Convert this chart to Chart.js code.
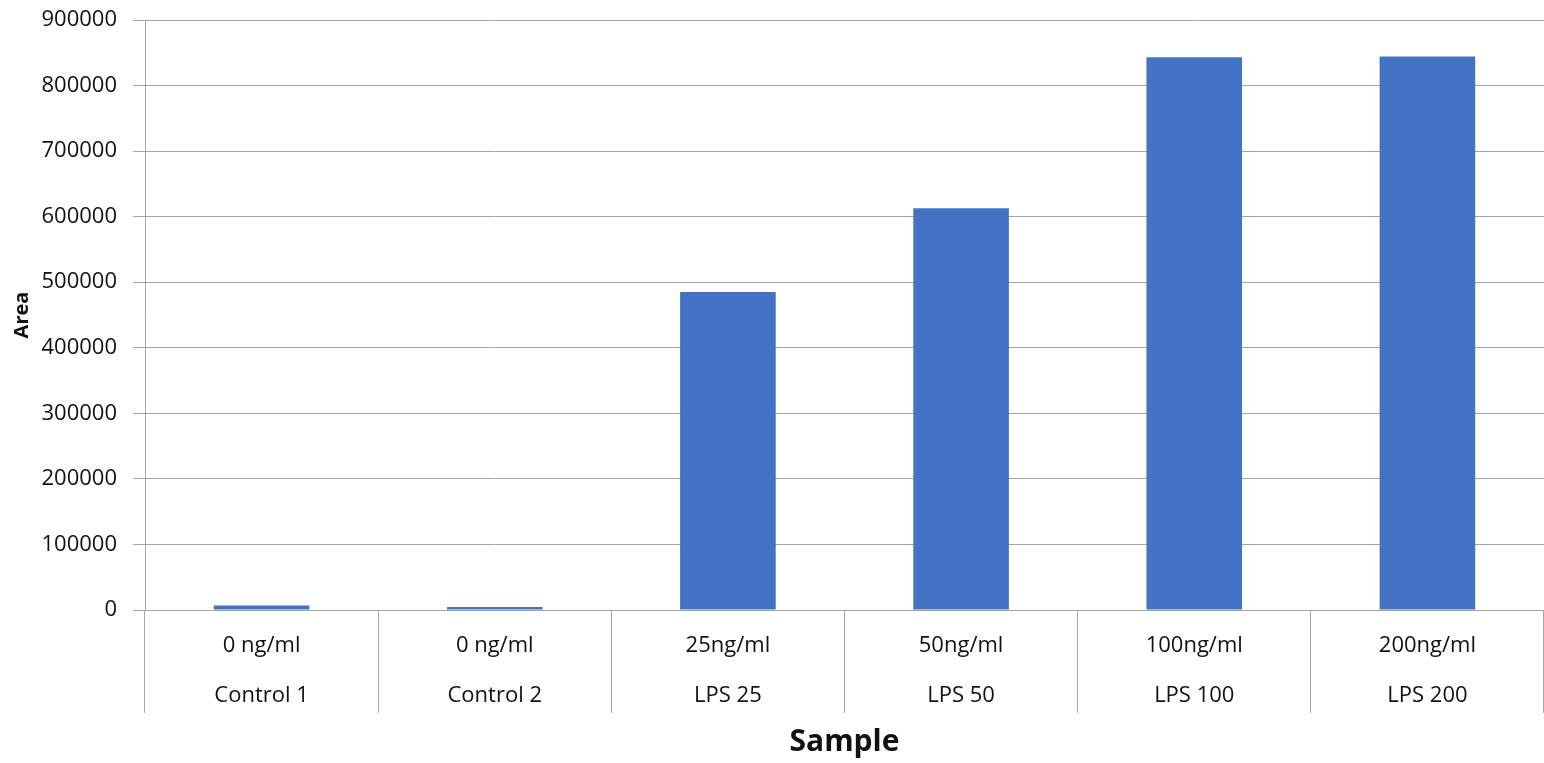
<!DOCTYPE html>
<html>
<head>
<meta charset="utf-8">
<script src="https://cdn.jsdelivr.net/npm/chart.js@4"></script>
<style>
  html, body { margin: 0; padding: 0; background: #fff; }
  #wrap { width: 1544px; height: 763px; }
</style>
</head>
<body>
<div id="wrap"><canvas id="c" width="1544" height="763"></canvas></div>
<script>
const concentrations = ['0 ng/ml', '0 ng/ml', '25ng/ml', '50ng/ml', '100ng/ml', '200ng/ml'];
const samples = ['Control 1', 'Control 2', 'LPS 25', 'LPS 50', 'LPS 100', 'LPS 200'];
const areaValues = [7000, 4500, 485000, 613000, 843000, 844500];
const yTicks = [0, 100000, 200000, 300000, 400000, 500000, 600000, 700000, 800000, 900000];

const labels = concentrations.map((c, i) => [c, samples[i]]);
const GRID = '#a6a6a6';
const FONT = '"Open Sans", "Liberation Sans", sans-serif';

new Chart(document.getElementById('c'), {
  type: 'bar',
  data: {
    labels: labels,
    datasets: [{
      data: areaValues,
      backgroundColor: '#4472C4',
      borderWidth: 0,
      barPercentage: 1,
      categoryPercentage: 0.41
    }]
  },
  options: {
    responsive: false,
    animation: false,
    devicePixelRatio: 1,
    layout: { padding: { top: 20, right: 0, left: 0, bottom: 0 } },
    plugins: { legend: { display: false }, title: { display: false }, tooltip: { enabled: false } },
    scales: {
      x: {
        grid: {
          display: true, drawOnChartArea: false, drawTicks: true,
          tickLength: 103, offset: true, color: GRID, lineWidth: 1
        },
        border: { display: true, color: GRID, width: 1 },
        ticks: {
          autoSkip: false, maxRotation: 0, minRotation: 0,
          padding: -92, color: '#111',
          font: { family: FONT, size: 22, lineHeight: 2.27 }
        },
        title: {
          display: true, text: 'Sample', color: '#111',
          font: { family: FONT, size: 30, weight: 'bold', lineHeight: 1.2 },
          padding: { top: 0, bottom: 3 }
        },
        afterFit: (s) => { s.height = 153; s.paddingLeft = 0; s.paddingRight = 0; }
      },
      y: {
        min: 0, max: 900000,
        afterBuildTicks: (s) => { s.ticks = yTicks.map(v => ({ value: v })); },
        grid: { color: GRID, lineWidth: 1, tickLength: 12, drawTicks: true },
        border: { display: true, color: GRID, width: 1 },
        ticks: {
          padding: 16, color: '#111',
          font: { family: FONT, size: 22 },
          callback: (v) => String(v)
        },
        title: {
          display: true, text: 'Area', color: '#111',
          font: { family: FONT, size: 20, weight: 'bold', lineHeight: 1.2 },
          padding: { top: 10, bottom: 0 }
        },
        afterFit: (s) => { s.width = 145; s.paddingTop = 0; s.paddingBottom = 0; }
      }
    }
  }
});
</script>
</body>
</html>
